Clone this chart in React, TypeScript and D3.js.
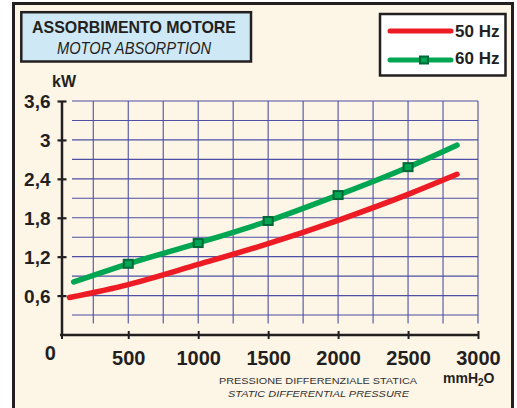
import React, { useRef, useEffect } from "react";
import { select, scaleLinear, line, curveMonotoneX, axisLeft, axisBottom, range } from "d3";

// pressure (mmH2O) and absorbed power (kW)
const hz50X = [80, 500, 1000, 1500, 2000, 2500, 2850];
const hz50Y = [0.57, 0.77, 1.08, 1.4, 1.76, 2.16, 2.47];
const hz60X = [110, 500, 1000, 1500, 2000, 2500, 2850];
const hz60Y = [0.81, 1.09, 1.41, 1.75, 2.15, 2.58, 2.92];
const markerX = [500, 1000, 1500, 2000, 2500];

const xTicks = [500, 1000, 1500, 2000, 2500, 3000];
const yTicks = [0.6, 1.2, 1.8, 2.4, 3, 3.6];
const yTickLabels = ["0,6", "1,2", "1,8", "2,4", "3", "3,6"];

const INK = "#231f20";
const RED = "#ed1c24";
const GREEN = "#00a651";
const GRID = "#3a3f9e";
const narrow = "'Liberation Sans Narrow', 'Liberation Sans', Arial, sans-serif";
const sans = "'Liberation Sans', Arial, sans-serif";

const App: React.FC = () => {
  const svgRef = useRef<SVGSVGElement>(null);

  useEffect(() => {
    const svg = select(svgRef.current);
    svg.selectAll("*").remove();

    const x = scaleLinear().domain([0, 3000]).range([58.3, 478]);
    const y = scaleLinear().domain([0, 3.6]).range([334.5, 101]);

    // frame
    svg.append("rect").attr("width", 517).attr("height", 408).attr("fill", "#fff");
    svg
      .append("rect")
      .attr("x", 13.5)
      .attr("y", 3.5)
      .attr("width", 499)
      .attr("height", 420)
      .attr("fill", "#fdf5e6")
      .attr("stroke", INK)
      .attr("stroke-width", 3);

    // title box
    svg
      .append("rect")
      .attr("x", 21.3)
      .attr("y", 12.2)
      .attr("width", 229.7)
      .attr("height", 49.3)
      .attr("fill", "#cfe8f6")
      .attr("stroke", INK)
      .attr("stroke-width", 2.5);
    svg
      .append("text")
      .attr("x", 32)
      .attr("y", 33.3)
      .attr("font-family", sans)
      .attr("font-weight", "bold")
      .attr("font-size", 17)
      .attr("textLength", 204)
      .attr("lengthAdjust", "spacingAndGlyphs")
      .attr("fill", INK)
      .text("ASSORBIMENTO MOTORE");
    svg
      .append("text")
      .attr("x", 57)
      .attr("y", 54.3)
      .attr("font-family", sans)
      .attr("font-style", "italic")
      .attr("font-size", 16)
      .attr("textLength", 154)
      .attr("lengthAdjust", "spacingAndGlyphs")
      .attr("fill", INK)
      .text("MOTOR ABSORPTION");

    // grid
    const grid = svg.append("g").attr("stroke", GRID).attr("stroke-width", 1.1).attr("opacity", 0.9);
    range(250, 3001, 250).forEach((v) => {
      grid.append("line").attr("x1", x(v)).attr("x2", x(v)).attr("y1", y(3.6)).attr("y2", y(0.17));
    });
    range(1, 13).forEach((k) => {
      grid.append("line").attr("x1", 72).attr("x2", x(3000)).attr("y1", y(k * 0.3)).attr("y2", y(k * 0.3));
    });

    // y axis
    const yAxis = svg
      .append("g")
      .attr("transform", "translate(62,0)")
      .call(
        axisLeft(y)
          .tickValues(yTicks)
          .tickFormat((_, i) => yTickLabels[i])
          .tickSize(4.5)
          .tickPadding(7)
      );
    yAxis.select(".domain").attr("d", `M0,${y(3.6)}V335`).attr("stroke", INK).attr("stroke-width", 2.5);
    yAxis.selectAll(".tick line").attr("x1", 4.5).attr("stroke", INK).attr("stroke-width", 2.2);
    yAxis
      .selectAll(".tick text")
      .attr("font-family", narrow)
      .attr("font-weight", "bold")
      .attr("font-size", 19)
      .attr("dy", "0.36em")
      .attr("fill", INK);

    // x axis
    const xAxis = svg
      .append("g")
      .attr("transform", "translate(0,335)")
      .call(
        axisBottom(x)
          .tickValues(xTicks)
          .tickFormat((d) => String(d))
          .tickSize(4)
          .tickPadding(12)
      );
    xAxis.select(".domain").attr("d", `M60,0H${x(3000)}`).attr("stroke", INK).attr("stroke-width", 2.5);
    xAxis.selectAll(".tick line").attr("y1", -4).attr("stroke", INK).attr("stroke-width", 2);
    xAxis
      .selectAll(".tick text")
      .attr("font-family", narrow)
      .attr("font-weight", "bold")
      .attr("font-size", 20)
      .attr("fill", INK);
    svg
      .append("text")
      .attr("x", x(0) - 8)
      .attr("y", 360)
      .attr("text-anchor", "middle")
      .attr("font-family", narrow)
      .attr("font-weight", "bold")
      .attr("font-size", 20)
      .attr("fill", INK)
      .text("0");
    svg.append("line").attr("x1", 62).attr("x2", 62).attr("y1", 331).attr("y2", 339).attr("stroke", INK).attr("stroke-width", 2);

    // labels
    svg
      .append("text")
      .attr("x", 52)
      .attr("y", 87.3)
      .attr("font-family", sans)
      .attr("font-weight", "bold")
      .attr("font-size", 16)
      .attr("fill", INK)
      .text("kW");
    const unit = svg
      .append("text")
      .attr("x", 443)
      .attr("y", 382.7)
      .attr("font-family", sans)
      .attr("font-weight", "bold")
      .attr("font-size", 14)
      .attr("fill", INK);
    unit.append("tspan").text("mmH");
    unit.append("tspan").attr("font-size", 10).attr("dy", 3).text("2");
    unit.append("tspan").attr("dy", -3).text("O");
    svg
      .append("text")
      .attr("x", 219)
      .attr("y", 384)
      .attr("font-family", sans)
      .attr("font-size", 9.5)
      .attr("textLength", 198)
      .attr("lengthAdjust", "spacingAndGlyphs")
      .attr("fill", "#333")
      .text("PRESSIONE DIFFERENZIALE STATICA");
    svg
      .append("text")
      .attr("x", 228)
      .attr("y", 397.3)
      .attr("font-family", sans)
      .attr("font-style", "italic")
      .attr("font-size", 9.5)
      .attr("textLength", 181)
      .attr("lengthAdjust", "spacingAndGlyphs")
      .attr("fill", "#333")
      .text("STATIC DIFFERENTIAL PRESSURE");

    // curves
    const curve = line<[number, number]>()
      .x((d) => x(d[0]))
      .y((d) => y(d[1]))
      .curve(curveMonotoneX);
    svg
      .append("path")
      .datum(hz50X.map((v, i) => [v, hz50Y[i]] as [number, number]))
      .attr("d", curve)
      .attr("fill", "none")
      .attr("stroke", RED)
      .attr("stroke-width", 5.5)
      .attr("stroke-linecap", "round");
    svg
      .append("path")
      .datum(hz60X.map((v, i) => [v, hz60Y[i]] as [number, number]))
      .attr("d", curve)
      .attr("fill", "none")
      .attr("stroke", GREEN)
      .attr("stroke-width", 5.5)
      .attr("stroke-linecap", "round");
    svg
      .selectAll(".mk")
      .data(markerX)
      .enter()
      .append("rect")
      .attr("x", (d) => x(d) - 4.5)
      .attr("y", (d) => y(hz60Y[hz60X.indexOf(d)]) - 4)
      .attr("width", 9)
      .attr("height", 8)
      .attr("fill", GREEN)
      .attr("stroke", "#006837")
      .attr("stroke-width", 2);

    // legend
    svg
      .append("rect")
      .attr("x", 380)
      .attr("y", 14)
      .attr("width", 125.5)
      .attr("height", 61.5)
      .attr("fill", "#fff")
      .attr("stroke", INK)
      .attr("stroke-width", 2.5);
    const legend = [
      { label: "50 Hz", color: RED, ly: 31, ty: 37.3, marker: false },
      { label: "60 Hz", color: GREEN, ly: 60, ty: 64.3, marker: true },
    ];
    legend.forEach((l) => {
      svg
        .append("line")
        .attr("x1", 390)
        .attr("x2", 451)
        .attr("y1", l.ly)
        .attr("y2", l.ly)
        .attr("stroke", l.color)
        .attr("stroke-width", 5)
        .attr("stroke-linecap", "round");
      if (l.marker)
        svg
          .append("rect")
          .attr("x", 420)
          .attr("y", l.ly - 3.5)
          .attr("width", 8)
          .attr("height", 7)
          .attr("fill", GREEN)
          .attr("stroke", "#006837")
          .attr("stroke-width", 2);
      svg
        .append("text")
        .attr("x", 455)
        .attr("y", l.ty)
        .attr("font-family", sans)
        .attr("font-weight", "bold")
        .attr("font-size", 17)
        .attr("fill", INK)
        .text(l.label);
    });
  }, []);

  return (
    <svg
      ref={svgRef}
      width={517}
      height={408}
      style={{ position: "absolute", left: 0, top: 0, display: "block" }}
    ></svg>
  );
};

export default App;
